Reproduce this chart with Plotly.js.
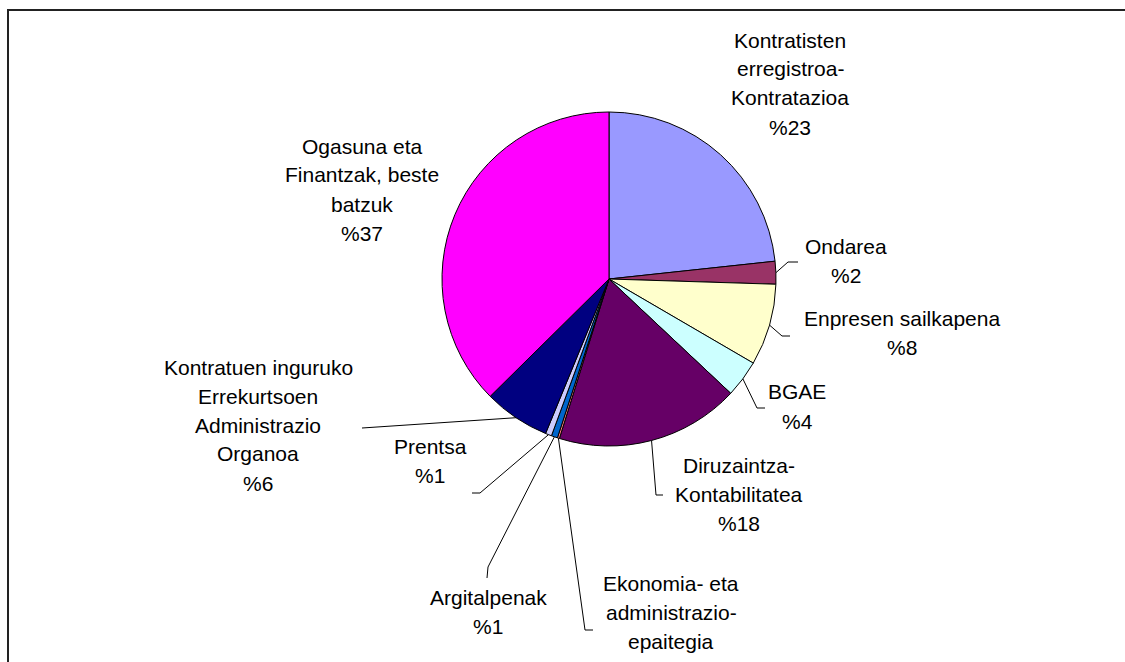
<!DOCTYPE html>
<html>
<head>
<meta charset="utf-8">
<script src="https://cdn.plot.ly/plotly-3.0.1.min.js"></script>
<style>
  html, body { margin: 0; padding: 0; background: #fff; }
  #chart { width: 1125px; height: 662px; }
</style>
</head>
<body>
<div id="chart"></div>
<script>
// ---- Data ----
const labels = [
  "Kontratisten<br>erregistroa-<br>Kontratazioa",
  "Ondarea",
  "Enpresen sailkapena",
  "BGAE",
  "Diruzaintza-<br>Kontabilitatea",
  "Ekonomia- eta<br>administrazio-<br>epaitegia",
  "Argitalpenak",
  "Prentsa",
  "Kontratuen inguruko<br>Errekurtsoen<br>Administrazio<br>Organoa",
  "Ogasuna eta<br>Finantzak, beste<br>batzuk"
];
const values = [23.3, 2.2, 7.9, 3.6, 17.8, 0.2, 0.6, 0.6, 6.4, 37.4];
const colors = ["#9999FF", "#993366", "#FFFFCC", "#CCFFFF", "#660066",
                "#FF8080", "#0066CC", "#CCCCFF", "#000080", "#FF00FF"];
const showPct = [true, true, true, true, true, false, true, true, true, true];

// ---- Layout constants (pixels) ----
const W = 1125, H = 662;
const CX = 609, CY = 279, R = 167;
const LINE_H = 29;
// label block position: centre x, centre y of first line
const labelPos = [
  [790, 40], [846, 246], [902, 318], [797, 392], [739, 465],
  [671, 583], [488, 597], [430, 446], [258, 367], [362, 146]
];
// leader lines: [knee, end] (null = no leader line)
const leaders = [
  null,
  [[788, 262], [798, 262]],
  [[782, 336], [790, 336]],
  [[757, 408], [765, 408]],
  [[656, 495], [663, 495]],
  [[585, 630], [593, 630]],
  [[488, 567], [487, 578]],
  [[480, 493], [472, 493]],
  [null, [362, 428]],
  null
];

const px = x => x / W;
const py = y => 1 - y / H;
const FONT = { family: "'Liberation Sans', Arial, sans-serif", size: 21, color: "#000" };

const total = values.reduce((a, b) => a + b, 0);

const annotations = [];
const shapes = [];

// outer frame
shapes.push({
  type: "rect", xref: "paper", yref: "paper",
  x0: px(8), x1: px(W + 10), y0: py(H + 10), y1: py(10),
  line: { color: "#222", width: 2 }, fillcolor: "rgba(0,0,0,0)", layer: "below"
});

let cum = 0;
values.forEach((v, i) => {
  const midFrac = (cum + v / 2) / total;
  cum += v;
  // label lines
  const lines = labels[i].split("<br>");
  if (showPct[i]) lines.push("%" + Math.round(v / total * 100));
  const [lx, ly] = labelPos[i];
  lines.forEach((t, k) => {
    annotations.push({
      xref: "paper", yref: "paper",
      x: px(lx), y: py(ly + k * LINE_H),
      xanchor: "center", yanchor: "middle",
      text: t, showarrow: false, font: FONT
    });
  });
  // leader line from slice edge (mid-angle) via knee to end
  const ld = leaders[i];
  if (ld) {
    const ang = midFrac * 2 * Math.PI; // clockwise from 12 o'clock
    const ax = CX + R * Math.sin(ang), ay = CY - R * Math.cos(ang);
    let path = "M " + px(ax) + "," + py(ay);
    if (ld[0]) path += " L " + px(ld[0][0]) + "," + py(ld[0][1]);
    path += " L " + px(ld[1][0]) + "," + py(ld[1][1]);
    shapes.push({
      type: "path", xref: "paper", yref: "paper", path: path,
      line: { color: "#000", width: 1 }
    });
  }
});

const trace = {
  type: "pie",
  labels: labels.map(l => l.replace(/<br>/g, " ")),
  values: values,
  sort: false,
  direction: "clockwise",
  rotation: 0,
  textinfo: "none",
  hoverinfo: "label+percent",
  marker: { colors: colors, line: { color: "#000", width: 1 } },
  domain: {
    x: [px(CX - R), px(CX + R)],
    y: [py(CY + R), py(CY - R)]
  },
  showlegend: false
};

const layout = {
  width: W, height: H,
  margin: { l: 0, r: 0, t: 0, b: 0 },
  paper_bgcolor: "#fff",
  plot_bgcolor: "#fff",
  showlegend: false,
  font: FONT,
  annotations: annotations,
  shapes: shapes
};

Plotly.newPlot("chart", [trace], layout, { displayModeBar: false, staticPlot: true });
</script>
</body>
</html>
